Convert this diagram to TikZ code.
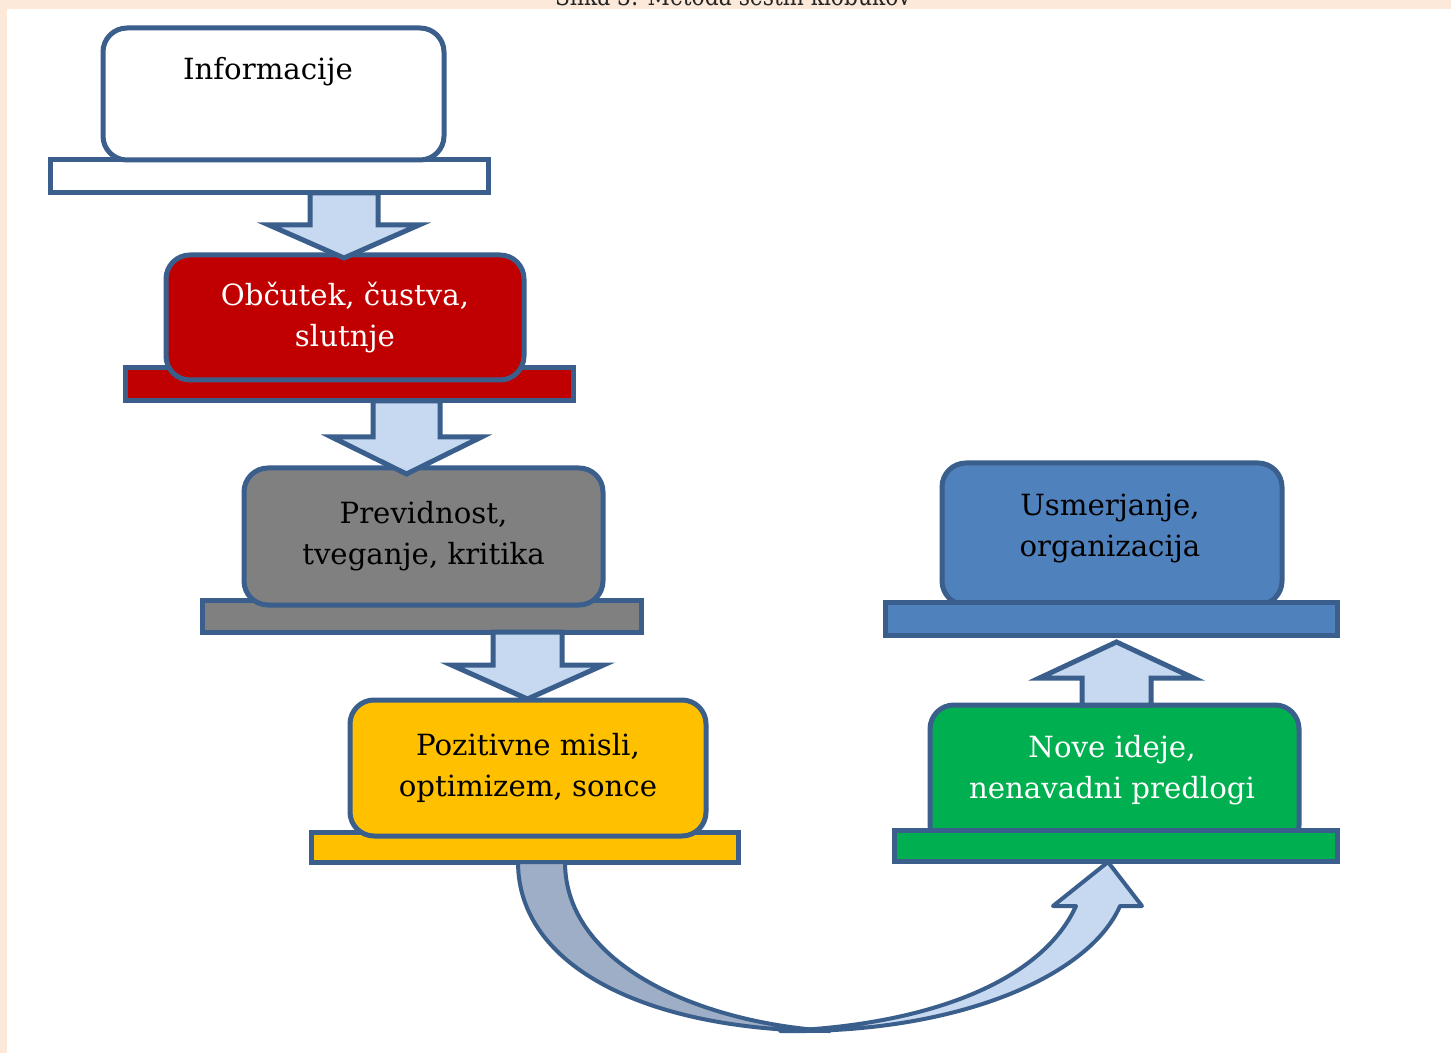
\documentclass[tikz,border=0pt]{standalone}
\usepackage{fontspec}
\setmainfont{DejaVu Serif}
\usetikzlibrary{calc}
\definecolor{peach}{HTML}{FDE9D9}
\definecolor{edge}{HTML}{3B5F8C}
\definecolor{arrowfill}{HTML}{C6D9F1}
\definecolor{darkband}{HTML}{9DAEC6}
\definecolor{hatred}{HTML}{C00000}
\definecolor{hatgray}{HTML}{808080}
\definecolor{hatyellow}{HTML}{FFC000}
\definecolor{hatblue}{HTML}{4F81BD}
\definecolor{hatgreen}{HTML}{00B050}
\newcommand\hatarrow[6]{% cx, ystart, ybase, ytip, shaft half width, head half width
  \draw[blockarrow] (#1-#5,#2) -- (#1-#5,#3) -- (#1-#6,#3) -- (#1,#4) -- (#1+#6,#3) -- (#1+#5,#3) -- (#1+#5,#2) -- cycle;}
\begin{document}
\begin{tikzpicture}[x=0.5pt,y=-0.5pt,
  hattext/.style={font=\fontsize{14.6}{20.5}\selectfont},
  hat/.style={draw=edge, line width=2.5pt, rounded corners=12pt, inner sep=0pt, align=center, hattext},
  brim/.style={draw=edge, line width=2.5pt, inner sep=0pt},
  blockarrow/.style={draw=edge, line width=2.5pt, fill=arrowfill, line join=miter},
  bandstyle/.style={draw=edge, line width=2pt, line join=round}
]
\useasboundingbox (0,0) rectangle (1451,1053);
\fill[peach] (0,0) rectangle (1451,1053);
\fill[white] (7,9) rectangle (1451,1053);
\node[anchor=base, text=black!85, font=\fontsize{13.3}{15}\selectfont] (caption) at (733,6) {\scalebox{0.82}[1]{Slika 3: Metoda šestih klobukov}};

% Informacije
\node[brim, fill=white, minimum width=219pt, minimum height=16.5pt] (infobar) at (269,176.5) {};
\node[hat, fill=white, minimum width=170.5pt, minimum height=66pt] (info) at (273.5,94) {};
\node[hattext, anchor=base] (infotext) at (268,80) {Informacije};

% red
\node[brim, fill=hatred, minimum width=224pt, minimum height=16.5pt] (redbar) at (349,384.5) {};
\node[hat, fill=hatred, text=white, minimum width=179pt, minimum height=62.5pt] (red) at (345,317.5) {Občutek, čustva,\\slutnje};

% gray
\node[brim, fill=hatgray, minimum width=219.5pt, minimum height=16pt] (graybar) at (421.5,616) {};
\node[hat, fill=hatgray, text=black, minimum width=179.5pt, minimum height=68.5pt] (gray) at (423.5,536.5) {Previdnost,\\tveganje, kritika};

% yellow
\node[brim, fill=hatyellow, minimum width=213.5pt, minimum height=15pt] (yellowbar) at (524.5,847) {};
\node[hat, fill=hatyellow, text=black, minimum width=178pt, minimum height=68pt] (yellow) at (528,768) {Pozitivne misli,\\optimizem, sonce};

% blue
\node[hat, fill=hatblue, text=black, minimum width=170pt, minimum height=71pt] (blue) at (1112,534) {};
\node[hattext, align=center] (bluetext) at (1110,528) {Usmerjanje,\\organizacija};
\node[brim, fill=hatblue, minimum width=226pt, minimum height=16.5pt] (bluebar) at (1111,618.5) {};

% green
\node[hat, fill=hatgreen, text=white, minimum width=184.5pt, minimum height=72pt] (green) at (1114.5,777) {};
\node[hattext, align=center, text=white] (greentext) at (1112,770) {Nove ideje,\\nenavadni predlogi};
\node[brim, fill=hatgreen, minimum width=221.5pt, minimum height=15.5pt] (greenbar) at (1115.5,845.5) {};

% straight block arrows
\hatarrow{344}{193}{225}{258}{34}{75}
\hatarrow{406.5}{401}{437}{474}{33.5}{75}
\hatarrow{527.5}{632}{665}{699}{34.5}{76}
\hatarrow{1116.5}{705}{678}{642}{34.5}{77}

% curved arrow from yellow to green
\coordinate (cstart) at (yellowbar.south);
\coordinate (ctip) at (1108,862);
\draw[bandstyle, fill=arrowfill] (780,1031) .. controls (960,1034) and (1090,975) .. (1120,906) -- (1142,906) -- (ctip) -- (1053,906) -- (1076,906) .. controls (1040,985) and (920,1026) .. (780,1031) -- cycle;
\draw[bandstyle, fill=darkband] (518,862) .. controls (518,968) and (650,1031) .. (830,1031) .. controls (700,1023) and (565,965) .. (565,862) -- cycle;
\end{tikzpicture}
\end{document}
